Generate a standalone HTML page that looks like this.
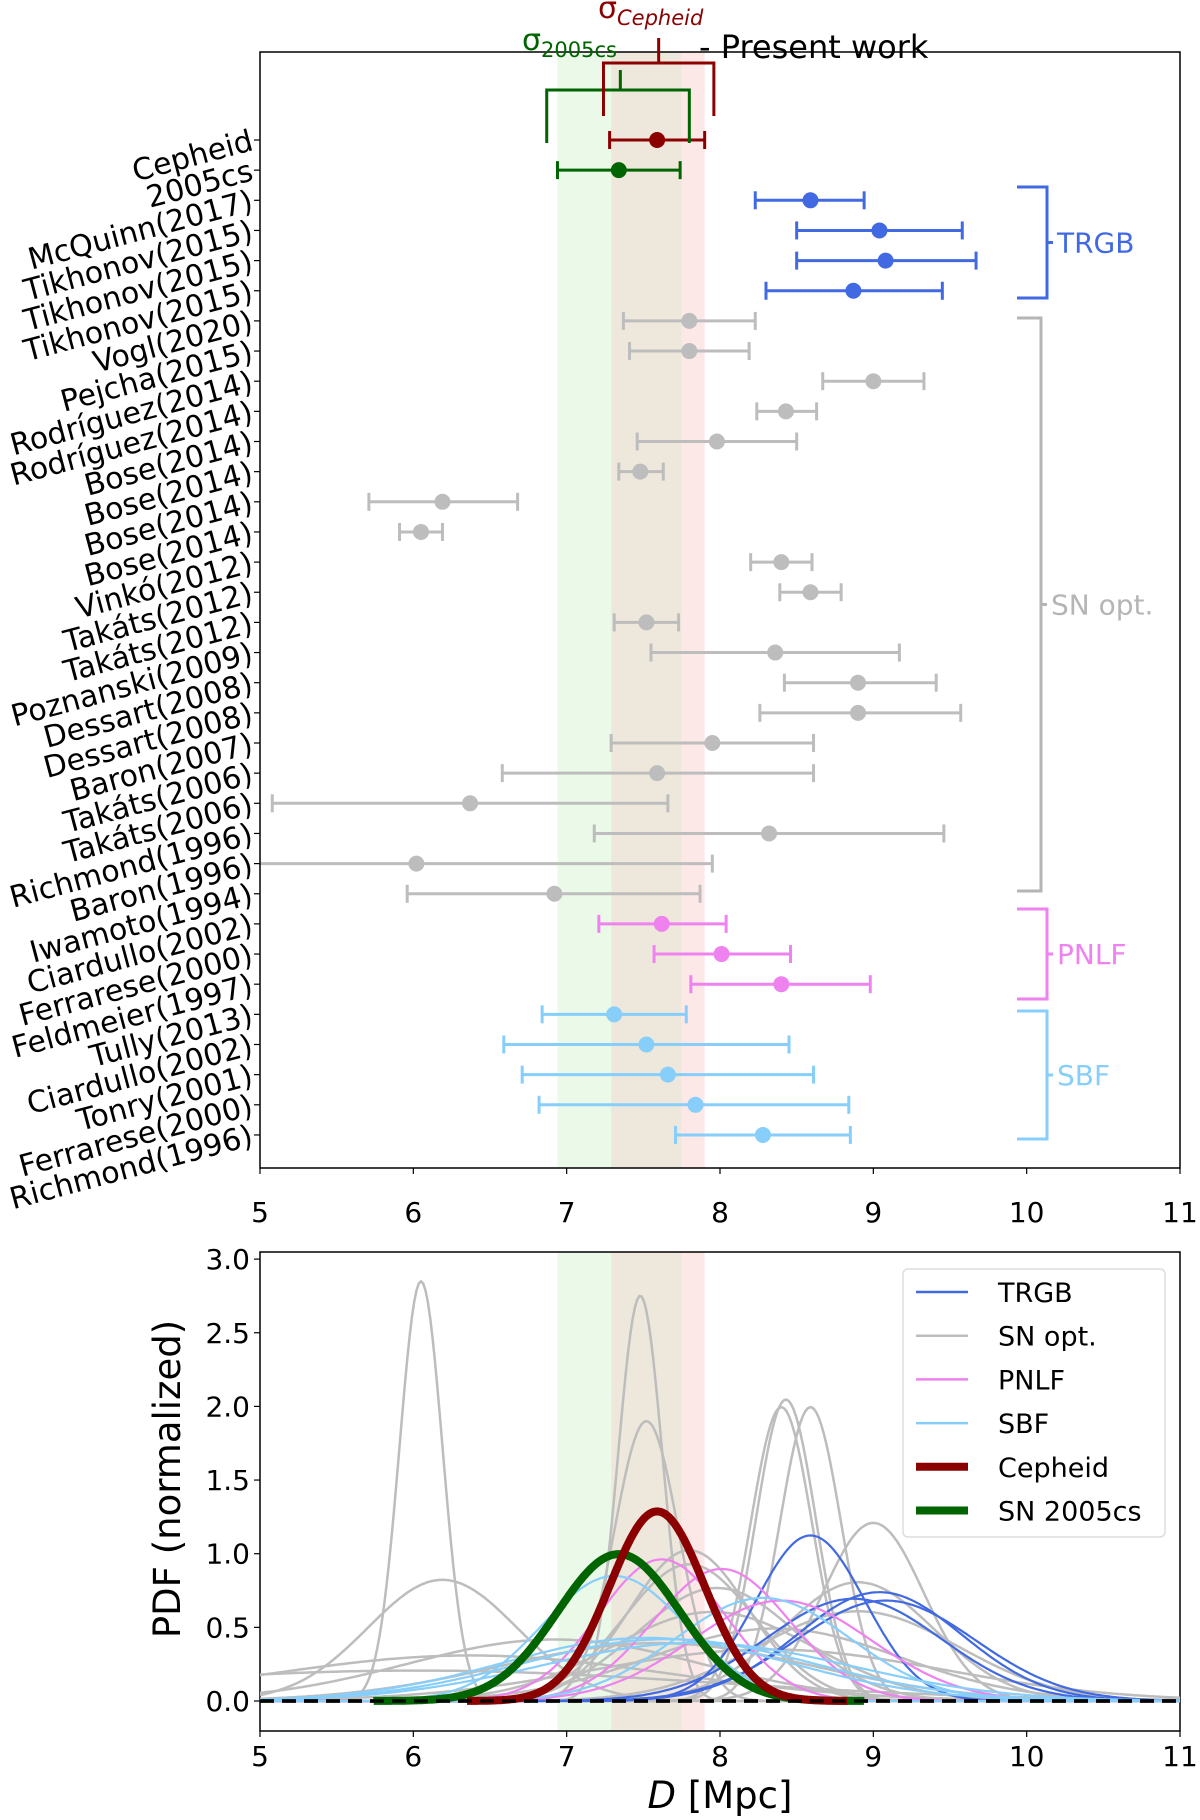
<!DOCTYPE html>
<html><head><meta charset="utf-8"><style>
html,body{margin:0;padding:0;background:#fff;}
svg{display:block;font-family:"DejaVu Sans","Liberation Sans",sans-serif;}
</style></head><body>
<svg id="chart" width="1200" height="1820" viewBox="0 0 1200 1820" xmlns="http://www.w3.org/2000/svg"></svg>
<script>
const labels = ["Cepheid","2005cs","McQuinn(2017)","Tikhonov(2015)","Tikhonov(2015)","Tikhonov(2015)","Vogl(2020)","Pejcha(2015)","Rodríguez(2014)","Rodríguez(2014)","Bose(2014)","Bose(2014)","Bose(2014)","Bose(2014)","Vinkó(2012)","Takáts(2012)","Takáts(2012)","Poznanski(2009)","Dessart(2008)","Dessart(2008)","Baron(2007)","Takáts(2006)","Takáts(2006)","Richmond(1996)","Baron(1996)","Iwamoto(1994)","Ciardullo(2002)","Ferrarese(2000)","Feldmeier(1997)","Tully(2013)","Ciardullo(2002)","Tonry(2001)","Ferrarese(2000)","Richmond(1996)"];
const groups = ["cep","sn05","TRGB","TRGB","TRGB","TRGB","SN","SN","SN","SN","SN","SN","SN","SN","SN","SN","SN","SN","SN","SN","SN","SN","SN","SN","SN","SN","PNLF","PNLF","PNLF","SBF","SBF","SBF","SBF","SBF"];
const dist = [7.59,7.34,8.59,9.04,9.08,8.87,7.80,7.80,9.00,8.43,7.98,7.48,6.19,6.05,8.40,8.59,7.52,8.36,8.90,8.90,7.95,7.59,6.37,8.32,6.02,6.92,7.62,8.01,8.40,7.31,7.52,7.66,7.84,8.28];
const lowErr = [7.28,6.94,8.23,8.50,8.50,8.30,7.37,7.41,8.67,8.24,7.46,7.34,5.71,5.91,8.20,8.39,7.31,7.55,8.42,8.26,7.29,6.58,5.08,7.18,4.09,5.96,7.21,7.57,7.81,6.84,6.59,6.71,6.82,7.71];
const highErr = [7.90,7.74,8.94,9.58,9.67,9.45,8.23,8.19,9.33,8.63,8.50,7.63,6.68,6.19,8.60,8.79,7.73,9.17,9.41,9.57,8.61,8.61,7.66,9.46,7.95,7.87,8.04,8.46,8.98,7.78,8.45,8.61,8.84,8.85];
const xTicks = [5,6,7,8,9,10,11];
const yTicks = [0.0,0.5,1.0,1.5,2.0,2.5,3.0];
const legendNames = ["TRGB","SN opt.","PNLF","SBF","Cepheid","SN 2005cs"];

const colors = {cep:"#8b0000",sn05:"#006400",TRGB:"#4169e1",SN:"#bdbdbd",PNLF:"#ee82ee",SBF:"#87cefa"};
const svg = document.getElementById('chart');
const NS = "http://www.w3.org/2000/svg";
function mk(tag, attrs, parent){const e=document.createElementNS(NS,tag);for(const k in attrs)e.setAttribute(k,attrs[k]);(parent||svg).appendChild(e);return e;}
const X0=260,X1=1180;
function xs(d){return X0+(d-5)/(11-5)*(X1-X0);}
function rowY(i){return 140+i*30.15;}
const TT=52,TB=1168, BT=1252,BB=1731;
function ys(v){return 1701-v*147.3;}

const defs=mk('defs',{});
const c1=mk('clipPath',{id:'clipTop'},defs);mk('rect',{x:X0,y:TT,width:X1-X0,height:TB-TT},c1);
const c2=mk('clipPath',{id:'clipBot'},defs);mk('rect',{x:X0,y:BT,width:X1-X0,height:BB-BT},c2);

function bands(top,bot,pre){
  let e;
  e=mk('rect',{x:xs(6.94),y:top,width:xs(7.29)-xs(6.94),height:bot-top,fill:"#ebf9e9"});
  
  e=mk('rect',{x:xs(7.29),y:top,width:xs(7.75)-xs(7.29),height:bot-top,fill:"#eee8dc"});
  
  e=mk('rect',{x:xs(7.75),y:top,width:xs(7.90)-xs(7.75),height:bot-top,fill:"#fde8e8"});
  
}
bands(TT,TB,'top');bands(BT,BB,'bottom');

const gTop=mk('g',{'clip-path':'url(#clipTop)'});

labels.forEach((lab,i)=>{
  const y=rowY(i),c=colors[groups[i]];
  const g=mk('g',{},gTop);
  
  
  mk('line',{x1:xs(lowErr[i]),x2:xs(highErr[i]),y1:y,y2:y,stroke:c,'stroke-width':3},g);
  mk('line',{x1:xs(lowErr[i]),x2:xs(lowErr[i]),y1:y-9,y2:y+9,stroke:c,'stroke-width':3},g);
  mk('line',{x1:xs(highErr[i]),x2:xs(highErr[i]),y1:y-9,y2:y+9,stroke:c,'stroke-width':3},g);
  mk('circle',{cx:xs(dist[i]),cy:y,r:8,fill:c},g);
});

labels.forEach((lab,i)=>{
  const y=rowY(i);
  mk('line',{x1:X0-6,x2:X0,y1:y,y2:y,stroke:"#000",'stroke-width':1.2});
  const t=mk('text',{x:X0-8,y:y+10,'text-anchor':'end','font-size':30,transform:`rotate(-15 ${X0-8} ${y})`});
  t.textContent=lab;
  
});

let f=mk('rect',{x:X0,y:TT,width:X1-X0,height:TB-TT,fill:'none',stroke:'#000','stroke-width':1.5});

f=mk('rect',{x:X0,y:BT,width:X1-X0,height:BB-BT,fill:'none',stroke:'#000','stroke-width':1.5});


[[TB,1222,'top'],[BB,1766,'bottom']].forEach(([yb,ty,p])=>{
  xTicks.forEach(v=>{
    mk('line',{x1:xs(v),x2:xs(v),y1:yb,y2:yb+6,stroke:'#000','stroke-width':1.2});
    const t=mk('text',{x:xs(v),y:ty,'text-anchor':'middle','font-size':28});
    t.textContent=v;
    
  });
});
yTicks.forEach(v=>{
  mk('line',{x1:X0-6,x2:X0,y1:ys(v),y2:ys(v),stroke:'#000','stroke-width':1.2});
  const t=mk('text',{x:X0-10,y:ys(v)+10,'text-anchor':'end','font-size':28});
  t.textContent=v.toFixed(1);
  
});
let t=mk('text',{x:0,y:0,'text-anchor':'middle','font-size':37,transform:'translate(180 1479) rotate(-90)'});
t.textContent='PDF (normalized)';
t=mk('text',{x:720,y:1808,'text-anchor':'middle','font-size':37});
t.innerHTML='<tspan font-style="italic">D</tspan> [Mpc]';

const gBot=mk('g',{'clip-path':'url(#clipBot)'});

function curve(i,lo,hi,w){
  const m=dist[i],s=(highErr[i]-lowErr[i])/2;let d='';
  for(let k=0;k<=400;k++){const x=lo+(hi-lo)*k/400;const v=Math.exp(-0.5*((x-m)/s)**2)/(s*Math.sqrt(2*Math.PI));d+=(k?'L':'M')+xs(x).toFixed(1)+' '+ys(v).toFixed(1);}
  const p=mk('path',{d:d,fill:'none',stroke:colors[groups[i]],'stroke-width':w},gBot);
  
}
const order=[];groups.forEach((g,i)=>{if(g==='SN')order.push(i);});
groups.forEach((g,i)=>{if(g==='TRGB')order.push(i);});
groups.forEach((g,i)=>{if(g==='PNLF')order.push(i);});
groups.forEach((g,i)=>{if(g==='SBF')order.push(i);});
order.forEach(i=>curve(i,5,11,groups[i]==='SN'?2.5:2.2));
mk('line',{x1:X0,x2:X1,y1:ys(0),y2:ys(0),stroke:'#000','stroke-width':3.5,'stroke-dasharray':'14 8'},gBot);
curve(1,dist[1]-4*0.4,dist[1]+4*0.4,8);
curve(0,dist[0]-4*0.31,dist[0]+4*0.31,8);
let z=mk('line',{x1:X0,x2:X1,y1:ys(0),y2:ys(0),stroke:'#000','stroke-width':3.5,'stroke-dasharray':'14 8','stroke-opacity':0.9},gBot);


const lg=mk('g',{});
mk('rect',{x:903,y:1269,width:262,height:268,rx:5,fill:'#fff','fill-opacity':0.85,stroke:'#ddd','stroke-width':1.5},lg);
const lgc=[colors.TRGB,colors.SN,colors.PNLF,colors.SBF,colors.cep,colors.sn05];
legendNames.forEach((n,k)=>{
  const y=1292+k*43.7;
  const e=mk('g',{},lg);
  mk('line',{x1:916,x2:968,y1:y,y2:y,stroke:lgc[k],'stroke-width':k>=4?8:2.5},e);
  const tx=mk('text',{x:998,y:y+10,'font-size':27},e);tx.textContent=n;
});

function bracket(y0,y1,c,label,name,xEnd){
  const g=mk('g',{});
  const xe=xEnd||1047;
  mk('path',{d:`M1017 ${y0} L${xe} ${y0} L${xe} ${y1} L1017 ${y1} M${xe} ${(y0+y1)/2} L${xe+6} ${(y0+y1)/2}`,fill:'none',stroke:c,'stroke-width':3},g);
  const tx=mk('text',{x:xe+10,y:(y0+y1)/2+10,'font-size':28,fill:c},g);tx.textContent=label;
}
bracket(187,298,colors.TRGB,'TRGB','bracket-trgb');
bracket(318,891,'#b5b5b5','SN opt.','bracket-sn-opt',1041);
bracket(909,999,colors.PNLF,'PNLF','bracket-pnlf');
bracket(1011,1139,colors.SBF,'SBF','bracket-sbf');

const sg=mk('g',{});
mk('path',{d:`M${xs(6.87)} 143 L${xs(6.87)} 90 L${xs(7.80)} 90 L${xs(7.80)} 143 M${xs(7.35)} 90 L${xs(7.35)} 70`,fill:'none',stroke:colors.sn05,'stroke-width':3},sg);
mk('path',{d:`M${xs(7.24)} 116 L${xs(7.24)} 63 L${xs(7.96)} 63 L${xs(7.96)} 116 M${xs(7.60)} 63 L${xs(7.60)} 38`,fill:'none',stroke:colors.cep,'stroke-width':3},sg);
t=mk('text',{x:522,y:50,'font-size':30,fill:colors.sn05},sg);
t.innerHTML='σ<tspan font-size="21" dy="7">2005cs</tspan>';
t=mk('text',{x:598,y:18,'font-size':30,fill:colors.cep},sg);
t.innerHTML='σ<tspan font-size="21" dy="7" font-style="italic">Cepheid</tspan>';
t=mk('text',{x:699,y:58,'font-size':32},sg);t.textContent='- Present work';
</script>
</body></html>
